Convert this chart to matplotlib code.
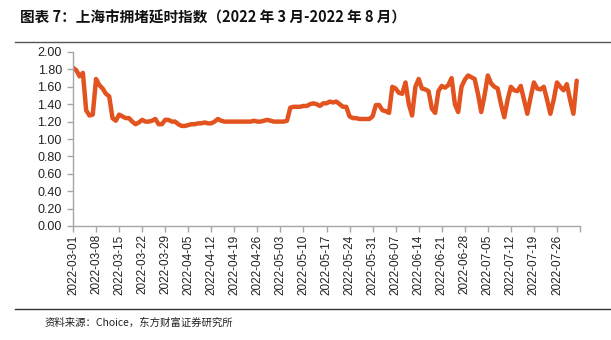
import numpy as np
import pandas as pd
import matplotlib
matplotlib.use('Agg')
import matplotlib.pyplot as plt
from matplotlib.lines import Line2D

plt.rcParams['font.family'] = ['Noto Sans CJK SC', 'DejaVu Sans']

# 上海市拥堵延时指数，日度，2022-03-01 起
start = '2022-03-01'
index_values = [
    1.82, 1.79, 1.72, 1.76, 1.33, 1.27, 1.28, 1.69, 1.62, 1.58,
    1.52, 1.49, 1.24, 1.21, 1.28, 1.26, 1.24, 1.24, 1.20, 1.17,
    1.19, 1.22, 1.20, 1.20, 1.21, 1.23, 1.17, 1.17, 1.22, 1.22,
    1.20, 1.20, 1.17, 1.15, 1.15, 1.16, 1.17, 1.17, 1.18, 1.18,
    1.19, 1.18, 1.18, 1.20, 1.23, 1.21, 1.20, 1.20, 1.20, 1.20,
    1.20, 1.20, 1.20, 1.20, 1.20, 1.21, 1.20, 1.20, 1.21, 1.22,
    1.21, 1.20, 1.20, 1.20, 1.20, 1.21, 1.36, 1.37, 1.37, 1.37,
    1.38, 1.38, 1.40, 1.41, 1.40, 1.38, 1.41, 1.41, 1.43, 1.42,
    1.43, 1.40, 1.37, 1.37, 1.26, 1.24, 1.24, 1.23, 1.23, 1.23,
    1.23, 1.26, 1.39, 1.39, 1.33, 1.32, 1.30, 1.60, 1.58, 1.53,
    1.52, 1.65, 1.40, 1.27, 1.60, 1.69, 1.58, 1.57, 1.55, 1.35,
    1.30, 1.55, 1.61, 1.59, 1.62, 1.70, 1.40, 1.31, 1.60, 1.68,
    1.73, 1.71, 1.69, 1.52, 1.31, 1.50, 1.73, 1.64, 1.60, 1.58,
    1.40, 1.25, 1.45, 1.60, 1.56, 1.55, 1.61, 1.45, 1.29, 1.48,
    1.65, 1.58, 1.57, 1.60, 1.45, 1.29, 1.45, 1.65, 1.60, 1.56,
    1.63, 1.45, 1.29, 1.67,
]
dates = pd.date_range(start, periods=len(index_values), freq='D')
y_ticks = [0.0, 0.2, 0.4, 0.6, 0.8, 1.0, 1.2, 1.4, 1.6, 1.8, 2.0]

W, H = 611, 340
fig = plt.figure(figsize=(W / 100, H / 100), dpi=100)
ax = fig.add_axes([73 / W, 1 - 226 / H, (580 - 73) / W, (226 - 52) / H])

days = np.arange(len(index_values))
ax.plot(days, index_values, color='#E2531F', lw=3.2,
        solid_joinstyle='round', solid_capstyle='round')

num_font = ['Liberation Sans', 'DejaVu Sans']

ax.set_ylim(0, 2.0)
ax.set_yticks(y_ticks)
ax.set_yticklabels([f'{v:.2f}' for v in y_ticks], fontsize=9,
                   family=num_font, color='#222222')

# 每7天一个刻度，末端多一个无标签刻度
xt = list(range(0, len(index_values), 7))
ax.set_xlim(0, len(index_values))
ax.set_xticks(xt + [len(index_values)])
ax.set_xticklabels([dates[i].strftime('%Y-%m-%d') for i in xt] + [''],
                   rotation=90, fontsize=8.5, family=num_font, color='#222222')

for s in ['top', 'right']:
    ax.spines[s].set_visible(False)
for s in ['left', 'bottom']:
    ax.spines[s].set_color('#A6A6A6')
    ax.spines[s].set_linewidth(1.0)
ax.tick_params(axis='both', colors='#A6A6A6', labelcolor='#222222',
               length=4, width=1.0)
ax.tick_params(axis='x', pad=2)
ax.tick_params(axis='y', pad=4)

fig.text(20 / W, 1 - 18 / H, '图表 7：上海市拥堵延时指数（2022 年 3 月-2022 年 8 月）',
         fontsize=10.5, fontweight='bold', va='center', ha='left', color='#111111')
fig.add_artist(Line2D([15 / W, 1.0], [1 - 42 / H, 1 - 42 / H],
                      color='#555555', lw=1.0, transform=fig.transFigure))
fig.add_artist(Line2D([15 / W, 1.0], [1 - 309 / H, 1 - 309 / H],
                      color='#333333', lw=1.0, transform=fig.transFigure))
fig.text(45 / W, 1 - 323 / H, '资料来源：Choice，东方财富证券研究所',
         fontsize=7.5, va='center', ha='left', color='#222222')

fig.savefig('out.png', dpi=100)
